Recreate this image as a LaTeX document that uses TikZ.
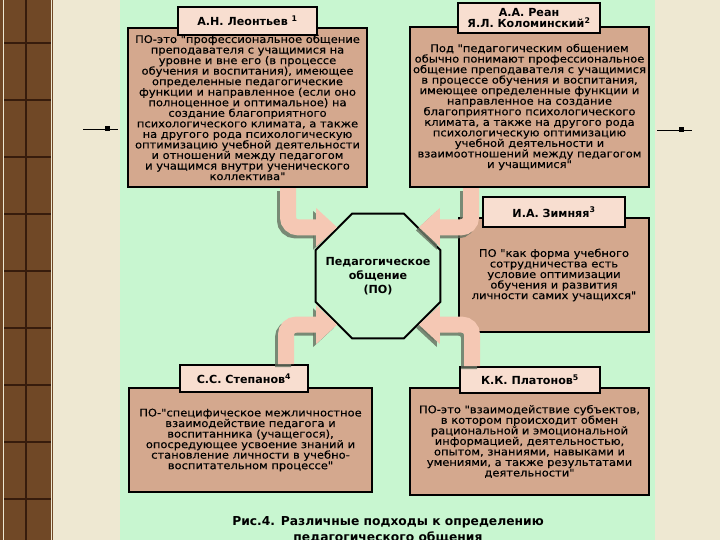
\documentclass[tikz,border=0pt]{standalone}
\usepackage{fontspec}
\setmainfont{DejaVu Sans}
\newfontfamily\bodyfont{DejaVu Sans}[FakeStretch=1.09,FakeBold=0.3]
\usetikzlibrary{arrows.meta,shapes.geometric}
\definecolor{mint}{RGB}{200,246,208}
\definecolor{tanbox}{RGB}{212,168,142}
\definecolor{pale}{RGB}{248,222,208}
\definecolor{peachy}{RGB}{245,200,180}
\definecolor{shd}{RGB}{100,112,95}
\definecolor{cream}{RGB}{238,232,210}
\definecolor{wood}{RGB}{112,72,38}
\definecolor{woodline}{RGB}{55,28,12}
\newcommand{\parr}[1]{\draw[arrshd,transform canvas={shift={(-3,3)}}] #1; \draw[arr] #1;}
\newcommand{\mrk}[2]{\draw (#1,#2) -- ++(35,0); \fill (#1,#2) ++(22,-2.5) rectangle ++(5,5);}

\begin{document}
\begin{tikzpicture}[x=0.03cm,y=-0.03cm,
  body/.style={draw,line width=2pt,fill=tanbox,inner sep=0pt,align=center,
    font=\bodyfont\fontsize{9}{9}\selectfont},
  ttl/.style={draw,line width=1.4pt,fill=pale,inner sep=0pt,align=center,
    font=\bfseries\fontsize{9.5}{10}\selectfont},
  arr/.style={draw=peachy,line width=0.48cm,rounded corners=0.3cm,
    -{Triangle[length=0.63cm,width=1.12cm]}},
  arrshd/.style={arr,draw=shd,opacity=.8}]
\useasboundingbox (0,0) rectangle (720,540);
% background
\fill[cream] (0,0) rectangle (720,540);
\fill[mint] (120,0) rectangle (655,540);
\fill[wood] (0,0) rectangle (53,540);
\draw[woodline,line width=1pt] (26,0) -- (26,540);
\foreach \y in {43,100,...,540} \draw[woodline,line width=1pt] (3,\y) -- (51,\y);
\draw[cream,line width=.6pt] (3,0) -- (3,540) (51,0) -- (51,540);
\mrk{83}{129}
\mrk{657}{130}

% centre
\node[draw,line width=1.6pt,fill=mint,regular polygon,regular polygon sides=8,
  minimum size=4.05cm,inner sep=0pt,
  label={[align=center,font=\bfseries\fontsize{9.5}{12}\selectfont]center:Педагогическое\\общение\\(ПО)}]
  (po) at (378,276) {};

% A.N. Leontiev
\node[body,minimum width=7.17cm,minimum height=4.77cm] (leotxt) at (247.5,107.5)
  {ПО-это "профессиональное общение\\преподавателя с учащимися на\\уровне и вне его (в процессе\\обучения и воспитания), имеющее\\определенные педагогические\\функции и направленное (если оно\\полноценное и оптимальное) на\\создание благоприятного\\психологического климата, а также\\на другого рода психологическую\\оптимизацию учебной деятельности\\и отношений между педагогом\\и учащимся внутри ученического\\коллектива"};
\node[ttl,minimum width=4.17cm,minimum height=0.84cm] (leo) at (247.5,21)
  {А.Н. Леонтьев \textsuperscript{1}};

% A.A. Rean
\node[body,minimum width=7.17cm,minimum height=4.8cm] (reantxt) at (529.5,107)
  {Под "педагогическим общением\\обычно понимают профессиональное\\общение преподавателя с учащимися\\в процессе обучения и воспитания,\\имеющее определенные функции и\\направленное на создание\\благоприятного психологического\\климата, а также на другого рода\\психологическую оптимизацию\\учебной деятельности и\\взаимоотношений между педагогом\\и учащимися"};
\node[ttl,minimum width=4.26cm,minimum height=0.9cm] (rean) at (529,18)
  {А.А. Реан\\Я.Л. Коломинский\textsuperscript{2}};

% I.A. Zimnyaya
\node[body,minimum width=5.7cm,minimum height=3.42cm] (zimtxt) at (554,275)
  {ПО "как форма учебного\\сотрудничества есть\\условие оптимизации\\обучения и развития\\личности самих учащихся"};
\node[ttl,minimum width=4.26cm,minimum height=0.9cm] (zim) at (554,212)
  {И.А. Зимняя\textsuperscript{3}};

% S.S. Stepanov
\node[body,minimum width=7.29cm,minimum height=3.12cm] (stptxt) at (250.5,440)
  {ПО-"специфическое межличностное\\взаимодействие педагога и\\воспитанника (учащегося),\\опосредующее усвоение знаний и\\становление личности в учебно-\\воспитательном процессе"};
\node[ttl,minimum width=3.84cm,minimum height=0.81cm] (stp) at (244,378.5)
  {С.С. Степанов\textsuperscript{4}};

% K.K. Platonov
\node[body,minimum width=7.17cm,minimum height=3.21cm] (plattxt) at (529.5,441.5)
  {ПО-это "взаимодействие субъектов,\\в котором происходит обмен\\рациональной и эмоциональной\\информацией, деятельностью,\\опытом, знаниями, навыками и\\умениями, а также результатами\\деятельности"};
\node[ttl,minimum width=4.2cm,minimum height=0.78cm] (plat) at (530,380)
  {К.К. Платонов\textsuperscript{5}};

% arrows
\coordinate (a1) at (288,0);
\coordinate (a2) at (471,0);
\coordinate (a3) at (286,0);
\coordinate (a4) at (472,0);
\parr{(leotxt.south -| a1) |- (po.130)}
\parr{(reantxt.south -| a2) |- (po.50)}
\parr{(stp.north -| a3) |- (po.230)}
\parr{(plat.north -| a4) |- (po.310)}

\node[font=\bfseries\fontsize{10.5}{13.6}\selectfont,align=center] (cap) at (388,530)
  {Рис.4. Различные подходы к определению\\педагогического общения};
\end{tikzpicture}
\end{document}
